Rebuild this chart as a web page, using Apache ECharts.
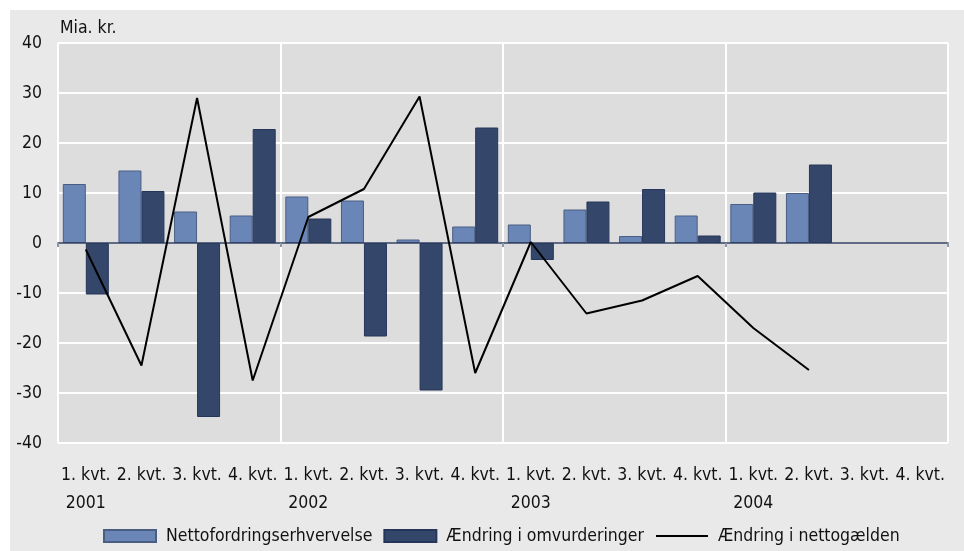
<!DOCTYPE html>
<html>
<head>
<meta charset="utf-8">
<script src="https://cdn.jsdelivr.net/npm/echarts@6/dist/echarts.min.js"></script>
<style>
  html, body { margin: 0; padding: 0; background: #fff; }
  #chart { width: 964px; height: 551px; }
</style>
</head>
<body>
<div id="chart"></div>
<script>
var quarters = ['1. kvt.', '2. kvt.', '3. kvt.', '4. kvt.',
                '1. kvt.', '2. kvt.', '3. kvt.', '4. kvt.',
                '1. kvt.', '2. kvt.', '3. kvt.', '4. kvt.',
                '1. kvt.', '2. kvt.', '3. kvt.', '4. kvt.'];
var years = ['2001', '', '', '', '2002', '', '', '', '2003', '', '', '', '2004', '', '', ''];
var netto = [11.8, 14.5, 6.3, 5.5, 9.3, 8.5, 0.7, 3.3, 3.7, 6.7, 1.4, 5.5, 7.8, 10.0, null, null];
var omvurd = [-10.3, 10.4, -34.8, 22.8, 4.9, -18.7, -29.5, 23.1, -3.4, 8.3, 10.8, 1.5, 10.1, 15.7, null, null];
var gaeld = [-1.3, -24.5, 29.0, -27.5, 5.2, 10.8, 29.3, -26.0, 0.2, -14.1, -11.5, -6.6, -17.0, -25.4, null, null];

var font = '"DejaVu Sans Condensed", "DejaVu Sans", sans-serif';
var txt = '#111111';

var chartDom = document.getElementById('chart');
var myChart = echarts.init(chartDom);
var option;
option = {
  animation: false,
  textStyle: {fontFamily: font},
  graphic: [
    {type: 'rect', z: -10, silent: true,
     shape: {x: 10, y: 10, width: 954, height: 541},
     style: {fill: '#e9e9e9'}}
  ],
  title: {
    text: 'Mia. kr.', left: 60, top: 19, padding: 0,
    textStyle: {fontFamily: font, fontSize: 17.5, fontWeight: 'normal', color: txt}
  },
  legend: {
    left: 103, top: 527, padding: 0,
    itemWidth: 52, itemHeight: 12, itemGap: 11,
    textStyle: {fontFamily: font, fontSize: 17.5, color: txt, padding: [0, 0, 0, 5]},
    data: [
      {name: 'Nettofordringserhvervelse', icon: 'rect'},
      {name: 'Ændring i omvurderinger', icon: 'rect'},
      {name: 'Ændring i nettogælden', itemStyle: {opacity: 0}}
    ]
  },
  grid: {
    left: 58, right: 16, top: 43, bottom: 108,
    show: true, backgroundColor: '#dddddd', borderWidth: 0
  },
  xAxis: [
    {
      type: 'category', data: quarters, z: 3,
      axisLine: {onZero: true, lineStyle: {color: '#2b3b5c', width: 1.5}},
      axisTick: {show: true, interval: 3, length: 4, lineStyle: {color: '#8c96aa', width: 2}},
      axisLabel: {show: false},
      splitLine: {show: true, interval: 3, lineStyle: {color: '#ffffff', width: 2}}
    },
    {
      type: 'category', data: quarters, position: 'bottom',
      axisLine: {show: false, onZero: false},
      axisTick: {show: false},
      splitLine: {show: false},
      axisLabel: {
        interval: 0, margin: 18, color: txt, fontFamily: font, fontSize: 17.5, lineHeight: 28,
        formatter: function (v, i) { return years[i] ? v + '\n' + years[i] : v; }
      }
    }
  ],
  yAxis: {
    type: 'value', min: -40, max: 40, interval: 10,
    axisLine: {show: false}, axisTick: {show: false},
    axisLabel: {margin: 16, color: txt, fontFamily: font, fontSize: 17.5},
    splitLine: {lineStyle: {color: '#ffffff', width: 2}}
  },
  series: [
    {name: 'Nettofordringserhvervelse', type: 'bar', data: netto,
     barWidth: 23, barGap: '0%',
     itemStyle: {color: '#6a86b6', borderColor: '#4a5e84', borderWidth: 1}},
    {name: 'Ændring i omvurderinger', type: 'bar', data: omvurd,
     barWidth: 23,
     itemStyle: {color: '#34476b', borderColor: '#26365a', borderWidth: 1}},
    {name: 'Ændring i nettogælden', type: 'line', data: gaeld, z: 5,
     symbol: 'none', showSymbol: false,
     lineStyle: {color: '#000000', width: 2},
     itemStyle: {color: '#000000'}}
  ]
};
option && myChart.setOption(option);
</script>
</body>
</html>
